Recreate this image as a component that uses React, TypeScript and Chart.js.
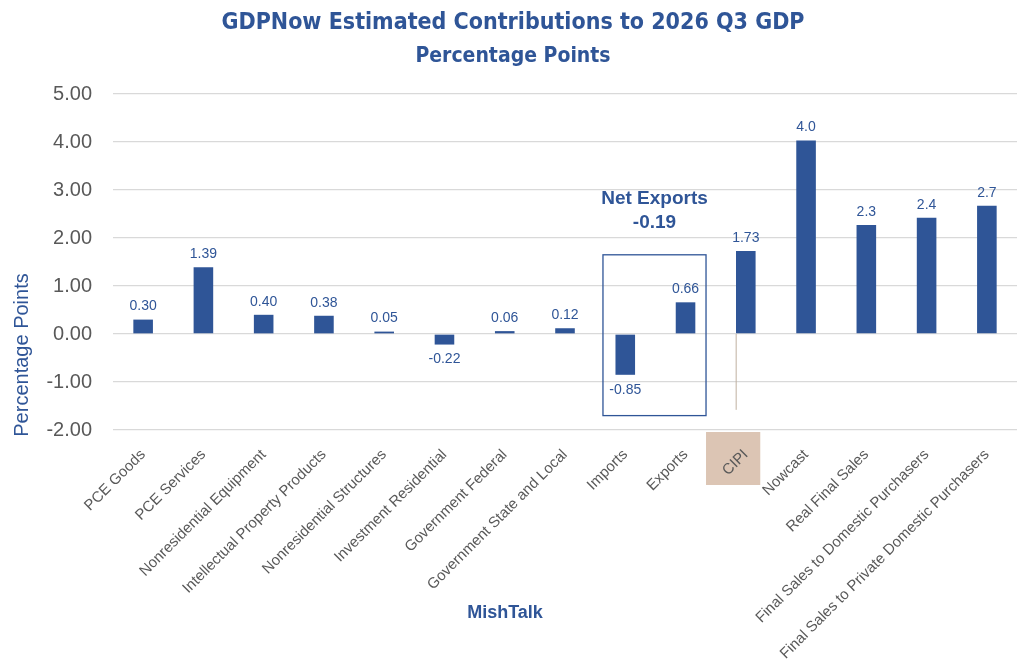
import React, { useEffect, useRef } from "react";
import { Chart, registerables } from "chart.js";

Chart.register(...registerables);

const categories = [
  "PCE Goods",
  "PCE Services",
  "Nonresidential Equipment",
  "Intellectual Property Products",
  "Nonresidential Structures",
  "Investment Residential",
  "Government Federal",
  "Government State and Local",
  "Imports",
  "Exports",
  "CIPI",
  "Nowcast",
  "Real Final Sales",
  "Final Sales to Domestic Purchasers",
  "Final Sales to Private Domestic Purchasers",
];

const contributions = [
  0.3, 1.39, 0.4, 0.38, 0.05, -0.22, 0.06, 0.12, -0.85, 0.66, 1.73, 4.03, 2.27,
  2.42, 2.67,
];

// decimals shown in the value labels
const labelDecimals = [2, 2, 2, 2, 2, 2, 2, 2, 2, 2, 2, 1, 1, 1, 1];

const netExports = -0.19;
const yTicks = [5, 4, 3, 2, 1, 0, -1, -2];

const BLUE = "#2F5597";
const GREY = "#595959";
const SANS = "'Liberation Sans', Arial, sans-serif";
const NARROW = "'Liberation Sans Narrow', 'DejaVu Sans Condensed', sans-serif";

const overlay = {
  id: "overlay",
  beforeDraw(chart: any) {
    const { ctx, scales } = chart;
    const x = scales.x;
    const y = scales.y;
    const step = x.getPixelForValue(1) - x.getPixelForValue(0);
    // CIPI label background, under the tick labels
    const cx = x.getPixelForValue(10);
    ctx.save();
    ctx.fillStyle = "#DCC5B4";
    ctx.fillRect(cx - step * 0.66, y.bottom + 2, step * 0.9, 53);
    ctx.restore();
  },
  afterDatasetsDraw(chart: any) {
    const { ctx, scales } = chart;
    const x = scales.x;
    const y = scales.y;
    const step = x.getPixelForValue(1) - x.getPixelForValue(0);
    ctx.save();

    // value labels
    ctx.font = `14px ${SANS}`;
    ctx.fillStyle = BLUE;
    ctx.textAlign = "center";
    contributions.forEach((v, i) => {
      const px = x.getPixelForValue(i);
      const py = y.getPixelForValue(v);
      const txt = v.toFixed(labelDecimals[i]);
      if (v >= 0) {
        ctx.textBaseline = "bottom";
        ctx.fillText(txt, px, py - 6);
      } else {
        ctx.textBaseline = "top";
        ctx.fillText(txt, px, py + 8);
      }
    });

    // CIPI leader line
    const cipiX = x.getPixelForValue(10) - step * 0.16;
    ctx.strokeStyle = "#BFB0A0";
    ctx.lineWidth = 1;
    ctx.beginPath();
    ctx.moveTo(cipiX, y.getPixelForValue(0));
    ctx.lineTo(cipiX, y.getPixelForValue(-1.58));
    ctx.stroke();

    // Net exports box
    const left = x.getPixelForValue(8) - step * 0.37;
    const right = x.getPixelForValue(9) + step * 0.34;
    const top = y.getPixelForValue(1.65);
    const bottom = y.getPixelForValue(-1.7);
    ctx.strokeStyle = BLUE;
    ctx.lineWidth = 1.3;
    ctx.strokeRect(left, top, right - left, bottom - top);
    ctx.font = `bold 19px ${SANS}`;
    ctx.textBaseline = "middle";
    ctx.textAlign = "center";
    const mid = (left + right) / 2;
    ctx.fillText("Net Exports", mid, top - 56);
    ctx.fillText(netExports.toFixed(2), mid, top - 32);

    // titles
    ctx.font = `bold 23px ${NARROW}`;
    ctx.fillText("GDPNow Estimated Contributions to 2026 Q3 GDP", 513, 23);
    ctx.font = `bold 21px ${NARROW}`;
    ctx.fillText("Percentage Points", 513, 57);

    // axis titles
    ctx.font = `bold 18px ${SANS}`;
    ctx.fillText("MishTalk", 505, 613);
    ctx.translate(22, 355);
    ctx.rotate(-Math.PI / 2);
    ctx.font = `20px ${SANS}`;
    ctx.fillText("Percentage Points", 0, 0);
    ctx.restore();
  },
};

const App: React.FC = () => {
  const canvasRef = useRef<HTMLCanvasElement | null>(null);
  const chartRef = useRef<Chart | null>(null);

  useEffect(() => {
    document.body.style.margin = "0";
    const ctx = canvasRef.current?.getContext("2d");
    if (!ctx) return;
    if (chartRef.current) chartRef.current.destroy();

    chartRef.current = new Chart(ctx, {
      type: "bar",
      data: {
        labels: categories,
        datasets: [
          {
            data: contributions,
            backgroundColor: BLUE,
            barPercentage: 0.325,
            categoryPercentage: 1,
          },
        ],
      },
      options: {
        animation: false,
        responsive: false,
        layout: { padding: { top: 94, right: 7, left: 0, bottom: 0 } },
        plugins: {
          legend: { display: false },
          tooltip: { enabled: false },
        },
        scales: {
          x: {
            afterFit: (scale: any) => {
              scale.height = 238;
            },
            grid: { display: false, drawTicks: false },
            border: { display: false },
            ticks: {
              autoSkip: false,
              minRotation: 45,
              maxRotation: 45,
              padding: 16,
              color: GREY,
              font: { family: SANS, size: 15 },
            },
          },
          y: {
            min: -2,
            max: 5,
            afterFit: (scale: any) => {
              scale.width = 113;
            },
            afterBuildTicks: (scale: any) => {
              scale.ticks = yTicks.map((v) => ({ value: v }));
            },
            grid: { color: "#D9D9D9", lineWidth: 1.3, drawTicks: false },
            border: { display: false },
            ticks: {
              padding: 21,
              color: GREY,
              font: { family: SANS, size: 20 },
              callback: (v: any) => Number(v).toFixed(2),
            },
          },
        },
      },
      plugins: [overlay],
    });

    return () => {
      if (chartRef.current) {
        chartRef.current.destroy();
        chartRef.current = null;
      }
    };
  }, []);

  return (
    <div style={{ width: 1024, height: 668, background: "#fff" }}>
      <canvas ref={canvasRef} width={1024} height={668}></canvas>
    </div>
  );
};

export default App;
